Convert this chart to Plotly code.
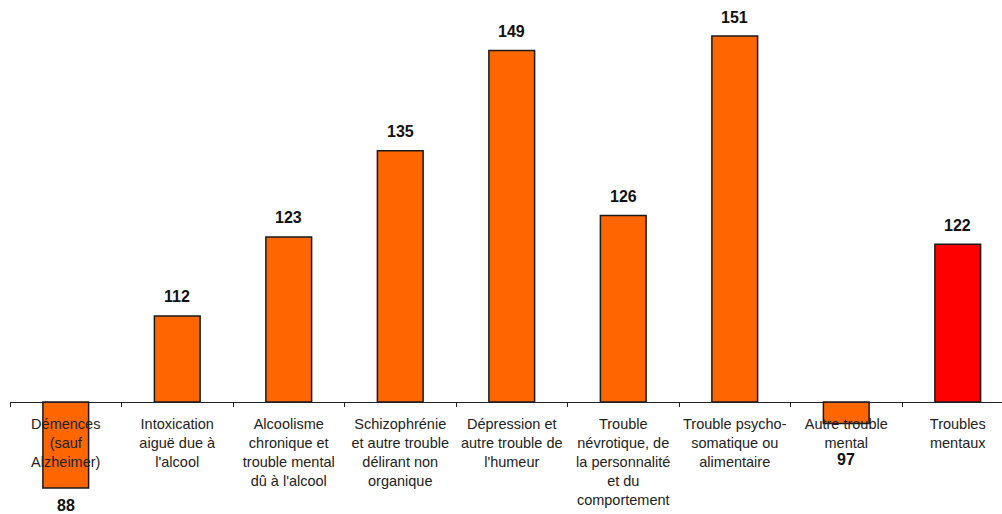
import plotly.graph_objects as go

# Indices par type de trouble mental (base 100)
categories = [
    "Démences<br>(sauf<br>Alzheimer)",
    "Intoxication<br>aiguë due à<br>l'alcool",
    "Alcoolisme<br>chronique et<br>trouble mental<br>dû à l'alcool",
    "Schizophrénie<br>et autre trouble<br>délirant non<br>organique",
    "Dépression et<br>autre trouble de<br>l'humeur",
    "Trouble<br>névrotique, de<br>la personnalité<br>et du<br>comportement",
    "Trouble psycho-<br>somatique ou<br>alimentaire",
    "Autre trouble<br>mental",
    "Troubles<br>mentaux",
]
values = [88, 112, 123, 135, 149, 126, 151, 97, 122]
BASE = 100

ORANGE = "#FF6600"
RED = "#FF0000"
colors = [ORANGE] * (len(values) - 1) + [RED]

W, H = 1002, 514
px_per_unit = 7.176
base_px = 402  # vertical pixel of the base line
y_top = BASE + base_px / px_per_unit
y_bot = BASE - (H - base_px) / px_per_unit

fig = go.Figure(
    go.Bar(
        x=categories,
        y=[v - BASE for v in values],
        base=BASE,
        width=0.41,
        marker=dict(color=colors, line=dict(color="#1a1a1a", width=1.5)),
        hoverinfo="skip",
    )
)

# value labels above / below each bar
for i, (c, v) in enumerate(zip(categories, values)):
    if v >= BASE:
        shift = 19
    else:
        shift = -36 if i == 7 else -17
    fig.add_annotation(
        x=c, y=v, yshift=shift, text=f"<b>{v}</b>", showarrow=False,
        font=dict(family="Liberation Sans, Arial", size=16, color="#111111"),
        xanchor="center", yanchor="middle",
    )

cat_px = 111.5
left = 10
x_right = -0.5 + (W - left) / cat_px

fig.update_layout(
    width=W, height=H,
    margin=dict(l=left, r=0, t=0, b=0),
    paper_bgcolor="white", plot_bgcolor="white",
    showlegend=False,
    xaxis=dict(
        type="category",
        range=[-0.5, x_right],
        anchor="free",
        position=(BASE - y_bot) / (y_top - y_bot),
        showline=True, linecolor="#222222", linewidth=1,
        ticks="outside", ticklen=4, tickcolor="#222222", tickson="boundaries",
        ticklabelstandoff=9,
        tickfont=dict(family="Liberation Sans, Arial", size=14.5, color="#222222"),
        tickangle=0,
        showgrid=False, zeroline=False,
    ),
    yaxis=dict(
        range=[y_bot, y_top],
        visible=False, showgrid=False, zeroline=False,
    ),
)

fig.write_html("out.html")
